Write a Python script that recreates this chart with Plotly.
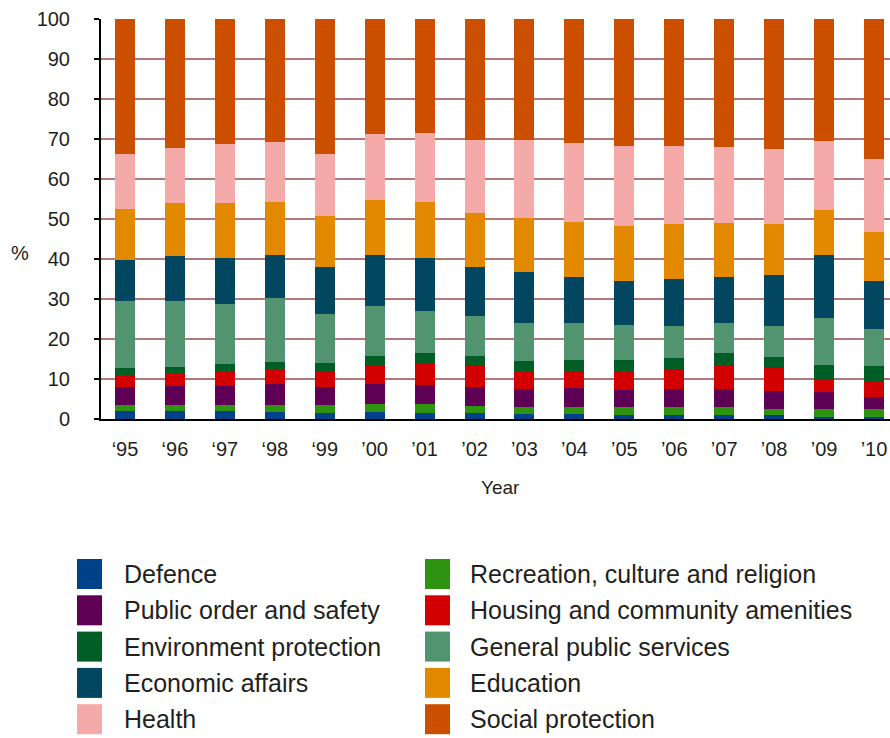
import plotly.graph_objects as go

years = ["\u201895", "\u201896", "\u201897", "\u201898", "\u201899",
         "\u201900", "\u201901", "\u201902", "\u201903", "\u201904", "\u201905",
         "\u201906", "\u201907", "\u201908", "\u201909", "\u201910"]

defence = [2.0, 2.0, 2.0, 1.85, 1.6, 1.85, 1.6, 1.4, 1.2, 1.2, 1.0, 1.0, 1.0, 1.0, 0.6, 0.6]
recreation = [1.4, 1.4, 1.4, 1.55, 1.8, 1.85, 2.1, 1.9, 1.7, 1.9, 1.9, 1.9, 1.9, 1.5, 1.9, 1.9]
public_order = [4.5, 4.9, 4.9, 5.35, 4.7, 5.05, 4.8, 4.8, 4.6, 4.6, 4.35, 4.5, 4.6, 4.6, 4.2, 3.1]
housing = [3.2, 3.3, 3.7, 3.65, 3.7, 4.55, 5.4, 5.15, 4.5, 4.05, 4.65, 4.9, 5.8, 5.65, 3.1, 3.7]
environment = [1.6, 1.5, 1.75, 1.9, 2.1, 2.45, 2.7, 2.6, 2.6, 2.95, 2.8, 2.95, 3.2, 2.85, 3.6, 3.95]
general_public = [16.8, 16.4, 15.05, 15.9, 12.3, 12.5, 10.4, 9.9, 9.5, 9.2, 8.8, 8.0, 7.6, 7.65, 11.8, 9.15]
economic = [10.25, 11.25, 11.5, 10.8, 11.7, 12.75, 13.3, 12.35, 12.6, 11.5, 11.1, 11.75, 11.3, 12.75, 15.7, 12.0]
education = [12.85, 13.15, 13.6, 13.3, 12.9, 13.75, 13.9, 13.3, 13.6, 13.8, 13.7, 13.75, 13.6, 12.75, 11.3, 12.3]
health = [13.65, 13.9, 14.8, 14.9, 15.4, 16.5, 17.2, 18.4, 19.4, 19.9, 19.95, 19.5, 19.0, 18.65, 17.4, 18.2]
social = [33.75, 32.2, 31.3, 30.8, 33.8, 28.75, 28.6, 30.2, 30.3, 30.9, 31.75, 31.75, 32.0, 32.6, 30.4, 35.1]

# stacking order, bottom to top (also legend order, row-major in two columns)
series_names = ["Defence", "Recreation, culture and religion", "Public order and safety",
                "Housing and community amenities", "Environment protection",
                "General public services", "Economic affairs", "Education",
                "Health", "Social protection"]
series_values = [defence, recreation, public_order, housing, environment,
                 general_public, economic, education, health, social]
series_colors = ["#00428a", "#2f9312", "#5e0053", "#d20000", "#005d25",
                 "#52946f", "#02475f", "#e28900", "#f5aaaa", "#cc4f00"]

FONT = "Liberation Sans, Arial, sans-serif"
TXT = "#231f20"

W, H = 890, 738
ML, MR, MT, MB = 101, 0, 19, 319
PW, PH = W - ML - MR, H - MT - MB


def px(x):
    return (x - ML) / PW


def py(y):
    return (H - MB - y) / PH


fig = go.Figure()
for name, vals, col in zip(series_names, series_values, series_colors):
    fig.add_trace(go.Bar(x=years, y=vals, name=name, marker_color=col,
                         marker_line_width=0, showlegend=False))

# manual legend (two columns, row-major)
shapes = []
annotations = []
col_sw_x = [77, 425]
col_tx_x = [122, 468]
row_y0 = 574
row_step = 36.3
for i, (name, col) in enumerate(zip(series_names, series_colors)):
    c, r = i % 2, i // 2
    yc = row_y0 + r * row_step
    shapes.append(dict(type="rect", xref="paper", yref="paper",
                       x0=px(col_sw_x[c]), x1=px(col_sw_x[c] + 25),
                       y0=py(yc - 15), y1=py(yc + 15),
                       fillcolor=col, line=dict(width=0)))
    annotations.append(dict(text=name, xref="paper", yref="paper",
                            x=px(col_tx_x[c]), y=py(yc), xanchor="left", yanchor="middle",
                            showarrow=False, font=dict(family=FONT, size=25, color=TXT)))

annotations.append(dict(text="%", xref="paper", yref="paper", x=px(20), y=py(253),
                        xanchor="center", yanchor="middle", showarrow=False,
                        font=dict(family=FONT, size=20, color=TXT)))
annotations.append(dict(text="Year", xref="paper", yref="paper", x=px(500), y=py(488),
                        xanchor="center", yanchor="middle", showarrow=False,
                        font=dict(family=FONT, size=19, color=TXT)))

fig.update_layout(
    width=W, height=H,
    margin=dict(l=ML, r=MR, t=MT, b=MB, pad=0),
    barmode="stack", bargap=0.6,
    plot_bgcolor="white", paper_bgcolor="white",
    font=dict(family=FONT, color=TXT, size=20),
    shapes=shapes, annotations=annotations,
    xaxis=dict(type="category", range=[-0.48, 15.32], showgrid=False,
               showline=True, linecolor="black", linewidth=2, ticks="",
               tickfont=dict(size=20, color=TXT), ticklabelstandoff=11,
               fixedrange=True),
    yaxis=dict(range=[0, 100], dtick=10, showgrid=True, gridcolor="#b47878", gridwidth=2,
               zeroline=False, showline=True, linecolor="black", linewidth=2,
               ticks="outside", ticklen=5, tickwidth=2, tickcolor="black",
               tickfont=dict(size=20, color=TXT), ticklabelstandoff=20,
               fixedrange=True),
)

fig.write_html("out.html")
